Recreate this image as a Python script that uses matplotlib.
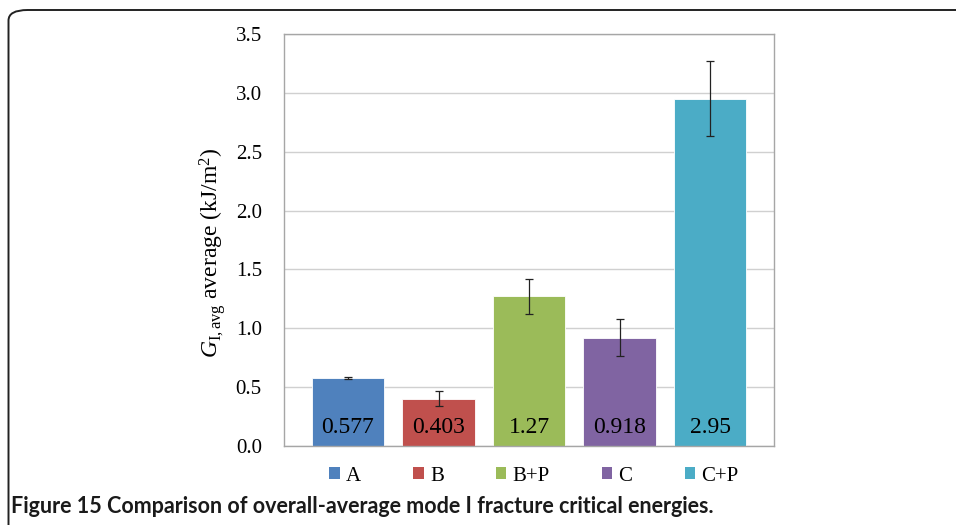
import numpy as np
import matplotlib
matplotlib.use('Agg')
import matplotlib.pyplot as plt
from matplotlib.patches import FancyBboxPatch, Patch

labels = ['A', 'B', 'B+P', 'C', 'C+P']
values = [0.577, 0.403, 1.27, 0.918, 2.95]
errors = [0.01, 0.06, 0.15, 0.157, 0.32]
colors = ['#4F81BD', '#C0504D', '#9BBB59', '#8064A2', '#4BACC6']
yticks = [0.0, 0.5, 1.0, 1.5, 2.0, 2.5, 3.0, 3.5]

serif = 'Liberation Serif'
plt.rcParams['mathtext.fontset'] = 'custom'
plt.rcParams['mathtext.rm'] = serif
plt.rcParams['mathtext.it'] = serif + ':italic'
plt.rcParams['mathtext.bf'] = serif + ':bold'

fig = plt.figure(figsize=(9.56, 5.25), dpi=100)
ax = fig.add_axes([0.2971, 0.1505, 0.5126, 0.7848])

x = np.arange(len(labels))
ax.bar(x, values, width=0.8, color=colors, edgecolor='white', linewidth=0.6, zorder=2)
ax.errorbar(x, values, yerr=errors, fmt='none', ecolor='#222222', elinewidth=0.9,
            capsize=3, capthick=0.9, zorder=3)

for xi, v in zip(x, values):
    ax.text(xi, 0.155, f'{v:g}', ha='center', va='center', fontsize=17,
            family=serif, color='black', zorder=4)

ax.set_xlim(-0.706, 4.706)
ax.set_ylim(0, 3.5)
ax.set_yticks(yticks)
ax.set_yticklabels([f'{t:.1f}' for t in yticks], family=serif, fontsize=15)
ax.set_xticks([])
ax.tick_params(axis='y', length=0, pad=16)
ax.grid(axis='y', color='#d0d0d0', linewidth=1.0, zorder=0)
ax.set_axisbelow(True)
for s in ax.spines.values():
    s.set_color('#a6a6a6')
    s.set_linewidth(1.0)

ax.set_ylabel(r'$G_{\mathrm{I,avg}}$ average (kJ/m$^2$)', family=serif, fontsize=17)
ax.yaxis.set_label_coords(-0.115, 0.47)

handles = [Patch(facecolor=c, edgecolor='none') for c in colors]
leg = ax.legend(handles, labels, loc='upper center', bbox_to_anchor=(0.51, -0.005),
                ncol=5, frameon=False, handlelength=0.5, handleheight=0.5,
                handletextpad=0.3, columnspacing=2.5,
                prop={'family': serif, 'size': 15})

fig.text(0.011, 0.036, 'Figure 15 Comparison of overall-average mode I fracture critical energies.',
         family='Lato', fontweight='bold', fontsize=15.5, color='#1a1a1a', ha='left', va='center')

frame = FancyBboxPatch((8.5 / 956, -0.2), 1.2, 1.2 - 10 / 525,
                       boxstyle='round,pad=0,rounding_size=0.02',
                       transform=fig.transFigure, facecolor='none',
                       edgecolor='#222222', linewidth=1.4, clip_on=False)
fig.patches.append(frame)

fig.savefig('out.png', dpi=100)
